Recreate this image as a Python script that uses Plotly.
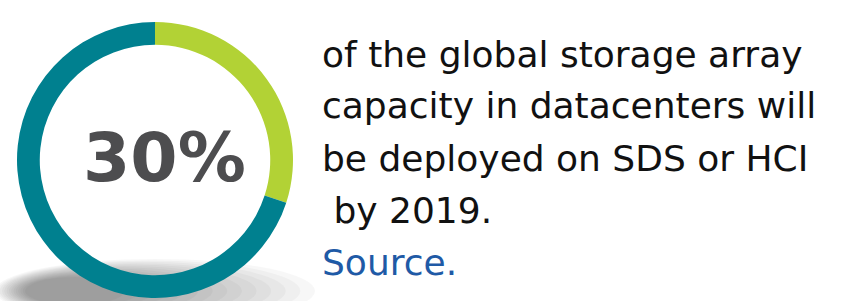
import plotly.graph_objects as go

W, H = 853, 301

labels = ["SDS or HCI", "Other"]
values = [30, 70]
colors = ["#b2d235", "#00808f"]
center_label = "30%"
text_lines = ["of the global storage array",
              "capacity in datacenters will",
              "be deployed on SDS or HCI",
              " by 2019."]
source_label = "Source."

cx, cy, r = 155, 160, 138

fig = go.Figure()
fig.add_trace(go.Pie(
    labels=labels, values=values, hole=0.835, sort=False,
    direction="clockwise", rotation=0,
    marker=dict(colors=colors, line=dict(width=0)),
    textinfo="none", hoverinfo="label+percent", showlegend=False,
    domain=dict(x=[(cx - r) / W, (cx + r) / W],
                y=[(H - cy - r) / H, (H - cy + r) / H]),
))

# soft shadow beneath the ring
shapes = []
n = 14
for i in range(n):
    f = i / (n - 1)
    rx = 160 - 110 * f
    ry = 32 - 18 * f
    ex = 155 - 80 * f
    ey = 291
    shapes.append(dict(type="circle", xref="paper", yref="paper", layer="below",
                       x0=(ex - rx) / W, x1=(ex + rx) / W,
                       y0=(H - ey - ry) / H, y1=(H - ey + ry) / H,
                       fillcolor="rgba(0,0,0,0.03)", line=dict(width=0)))

ann = [dict(text=f"<b>{center_label}</b>", x=164 / W, y=(H - 157) / H, xref="paper", yref="paper",
            showarrow=False, xanchor="center", yanchor="middle",
            font=dict(family="DejaVu Sans", size=68, color="#4d4d4f"))]
ys = [55, 106, 158, 210]
for t, yy in zip(text_lines, ys):
    ann.append(dict(text=t.replace(" ", "&nbsp;") if t.startswith(" ") else t,
                    x=320 / W, y=(H - yy) / H, xref="paper", yref="paper",
                    showarrow=False, xanchor="left", yanchor="middle",
                    font=dict(family="DejaVu Sans", size=36, color="#111111")))
ann.append(dict(text=source_label, x=320 / W, y=(H - 262) / H, xref="paper", yref="paper",
                showarrow=False, xanchor="left", yanchor="middle",
                font=dict(family="DejaVu Sans", size=36, color="#1f5aa6")))

fig.update_layout(width=W, height=H, margin=dict(l=0, r=0, t=0, b=0),
                  paper_bgcolor="white", plot_bgcolor="white",
                  shapes=shapes, annotations=ann)
fig.write_html("out.html", config={"displayModeBar": False},
               post_script="document.body.style.margin='0';")
